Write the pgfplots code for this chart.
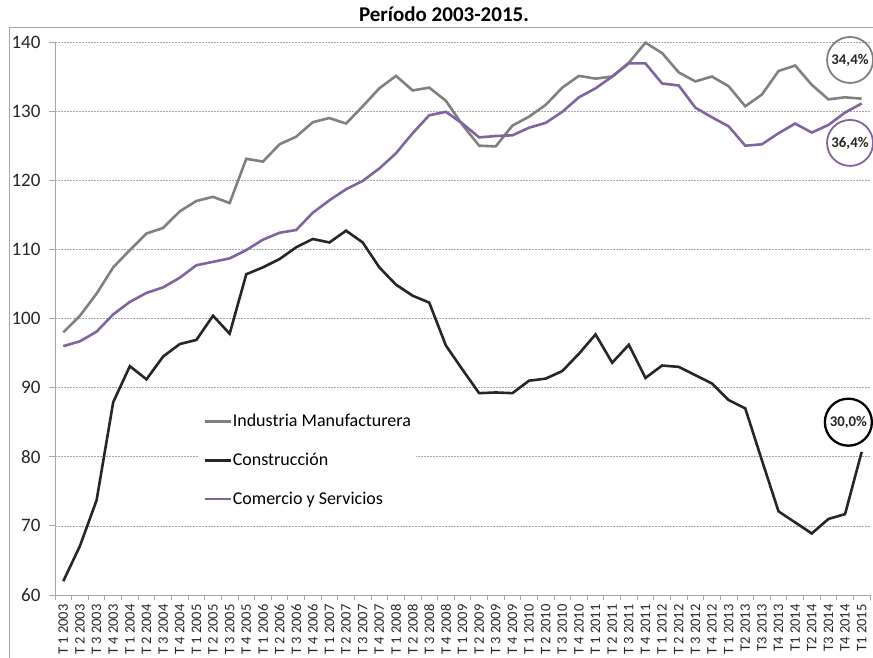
\documentclass[border=0pt]{standalone}
\usepackage{pgfplots}
\pgfplotsset{compat=1.18}
\usepackage{pgfplotstable}
\usepackage{fontspec}
\setmainfont{Carlito}
\definecolor{cgray}{HTML}{808080}
\definecolor{cblack}{HTML}{262626}
\definecolor{cpurple}{HTML}{8064A2}
\definecolor{axgray}{HTML}{A6A6A6}
\pgfplotstableread{
x ind con com
0 98.0 62.0 96.0
1 100.4 67.1 96.7
2 103.6 73.7 98.1
3 107.4 87.9 100.6
4 109.9 93.1 102.4
5 112.3 91.2 103.7
6 113.1 94.5 104.5
7 115.5 96.3 105.9
8 117.0 96.9 107.7
9 117.6 100.4 108.2
10 116.7 97.8 108.7
11 123.1 106.4 109.9
12 122.7 107.4 111.4
13 125.2 108.6 112.4
14 126.3 110.3 112.8
15 128.4 111.5 115.3
16 129.0 111.0 117.1
17 128.2 112.7 118.7
18 130.7 111.0 119.9
19 133.3 107.4 121.7
20 135.1 104.9 123.9
21 133.0 103.3 126.8
22 133.4 102.3 129.4
23 131.5 96.1 129.9
24 128.0 92.6 128.2
25 125.0 89.2 126.2
26 124.9 89.3 126.4
27 127.9 89.2 126.5
28 129.2 91.0 127.6
29 130.9 91.3 128.3
30 133.4 92.4 129.9
31 135.1 94.9 132.0
32 134.7 97.7 133.3
33 135.0 93.6 135.0
34 137.0 96.2 136.9
35 139.9 91.4 136.9
36 138.4 93.2 134.0
37 135.6 93.0 133.7
38 134.3 91.8 130.5
39 135.0 90.6 129.1
40 133.6 88.2 127.8
41 130.7 87.0 125.0
42 132.4 79.5 125.2
43 135.8 72.1 126.8
44 136.6 70.5 128.2
45 133.8 68.9 126.9
46 131.7 71.0 128.0
47 132.0 71.7 129.8
48 131.8 80.7 131.1
}\datatable
\begin{document}
\begin{tikzpicture}
\draw[axgray, line width=0.8pt] (9pt,0pt) -- (9pt,631pt) -- (880pt,631pt);
\node[font=\bfseries\fontsize{21}{25}\selectfont, text=black] at (444pt,644pt) {Período 2003-2015.};
\begin{axis}[
  at={(55pt,63pt)}, anchor=south west,
  scale only axis, width=815pt, height=553pt,
  xmin=-0.5, xmax=48.5, ymin=60, ymax=140,
  clip=false,
  axis x line*=bottom, axis y line*=left,
  axis line style={-, axgray, line width=0.8pt},
  ytick={60,70,...,140},
  ymajorgrids,
  grid style={dashed, gray!70, line width=0.5pt, dash pattern=on 2pt off 1pt},
  xtick={0,...,48},
  minor xtick={-0.5,0.5,...,48.5},
  tick align=outside,
  major tick length=6pt, minor tick length=5pt,
  major x tick style={draw=none},
  minor x tick style={axgray, line width=0.8pt},
  major y tick style={axgray, line width=0.8pt},
  /pgf/number format/assume math mode=true,
  yticklabel style={font=\fontsize{19}{22}\selectfont, text=cblack, xshift=-5pt},
  xticklabel style={font=\fontsize{14.5}{17}\selectfont, rotate=90, anchor=east, text=cblack},
  xticklabels={T 1 2003,T 2 2003,T 3 2003,T 4 2003,T 1 2004,T 2 2004,T 3 2004,T 4 2004,T 1 2005,T 2 2005,T 3 2005,T 4 2005,T 1 2006,T 2 2006,T 3 2006,T 4 2006,T 1 2007,T 2 2007,T 3 2007,T 4 2007,T 1 2008,T 2 2008,T 3 2008,T 4 2008,T 1 2009,T 2 2009,T 3 2009,T 4 2009,T 1 2010,T 2 2010,T 3 2010,T 4 2010,T 1 2011,T 2 2011,T 3 2011,T 4 2011,T 1 2012,T 2 2012,T 3 2012,T 4 2012,T 1 2013,T2 2013,T3 2013,T4 2013,T1 2014,T2 2014,T3 2014,T4 2014,T1 2015},
  legend style={at={(rel axis cs:0.1767,0.338)}, anchor=north west, draw=none, fill=white,
    font=\fontsize{18}{21}\selectfont, row sep=25pt, inner xsep=4pt, inner ysep=6pt,
    nodes={inner xsep=1pt, inner ysep=0pt}},
  legend cell align=left,
  legend image code/.code={\draw[#1] (0pt,0pt) -- (26pt,0pt);},
]
\addplot[cgray, line width=2.6pt] table[x=x, y=ind] {\datatable};
\addlegendentry{Industria Manufacturera}
\addplot[cblack, line width=2.6pt] table[x=x, y=con] {\datatable};
\addlegendentry{Construcción}
\addplot[cpurple, line width=2.6pt] table[x=x, y=com] {\datatable};
\addlegendentry{Comercio y Servicios}
\node[draw=cgray, circle, line width=1.8pt, minimum size=46pt, inner sep=0pt, font=\bfseries\fontsize{14.8}{17}\selectfont, text=cblack] at (axis cs:47.3,137.4) {34,4\%};
\node[draw=cpurple, circle, line width=1.8pt, minimum size=46pt, inner sep=0pt, font=\bfseries\fontsize{14.8}{17}\selectfont, text=cblack] at (axis cs:47.3,125.4) {36,4\%};
\node[draw=black, circle, line width=2.3pt, minimum size=47pt, inner sep=0pt, font=\bfseries\fontsize{14.8}{17}\selectfont, text=cblack] at (axis cs:47.2,85.0) {30,0\%};
\end{axis}
\pgfresetboundingbox
\useasboundingbox (0pt,0pt) rectangle (873pt,658pt);
\end{tikzpicture}
\end{document}
